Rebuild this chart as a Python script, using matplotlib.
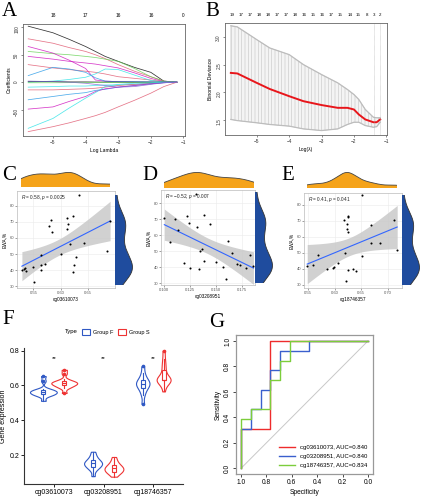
import numpy as np
import matplotlib
matplotlib.use('Agg')
import matplotlib.pyplot as plt
from matplotlib.patches import Patch
from matplotlib.lines import Line2D

plt.rcParams['font.family'] = ['Liberation Sans', 'DejaVu Sans']
plt.rcParams['mathtext.fontset'] = 'custom'
plt.rcParams['mathtext.it'] = 'Liberation Sans:italic'
plt.rcParams['mathtext.rm'] = 'Liberation Sans'
plt.rcParams['hatch.linewidth'] = 0.4

# ---------------- DATA ----------------
# Panel A: LASSO coefficient paths
lasso_log_lambda = [-5.76, -5.0, -4.5, -4.0, -3.7, -3.4, -3.0, -2.5, -2.0, -1.6, -1.2]
lasso_paths = [
    [102, 90, 78, 65, 56, 47, 38, 27, 18, 2, 0],
    [79, 71, 63, 56, 50, 43, 32, 20, 10, 2, 0],
    [56, 52, 50, 47, 45, 42, 38, 25, 10, 2, 0],
    [65, 53, 40, 25, 4, 2, 1, 0.5, 0.3, 0, 0],
    [47, 42, 38, 35, 33, 30, 26, 17, 7, 1, 0],
    [32, 26, 23, 20, 18, 15, 10, 7, 4, 1, 0],
    [12, 27, 24, 18, 8, 2, 1, 1, 0.5, 0, 0],
    [0, 2, 5, 9, 15, 24, 23, 13, 3, 0.5, 0],
    [1, 1, 0.5, 0.5, 0.3, 0.2, 0.1, 0, 0, 0, 0],
    [-1, -1, -0.8, -0.6, -0.5, -0.4, -0.3, -0.2, 0, 0, 0],
    [-9, -8, -7, -7, -6, -5, -5, -4, -2, -0.5, 0],
    [-14, -14, -13, -12, -11, -9, -6, -4, -2, -0.5, 0],
    [-32, -26, -22, -19, -15, -13, -9, -6, -3, -1, 0],
    [-49, -45, -35, -26, -17, -12, -9, -6, -3, -1, 0],
    [-84, -66, -47, -29, -19, -8, -4, -2, -1, 0, 0],
    [-90, -81, -74, -66, -61, -55, -45, -33, -20, -8, 0],
    [2, 1, 0, -2, -4, -6, -9, -8, -4, -1, 0],
]
lasso_top_pos = [-5, -4, -3, -2, -1]
lasso_top_labels = ['18', '17', '16', '16', '0']

# Panel B: cross-validation deviance
cv_log_lambda = [-5.8, -5.6, -5.0, -4.6, -4.0, -3.56, -3.0, -2.5, -2.2, -2.0, -1.85, -1.65, -1.4, -1.3, -1.19]
cv_mean = [2.35, 2.34, 2.17, 2.06, 1.93, 1.84, 1.77, 1.72, 1.72, 1.69, 1.60, 1.51, 1.46, 1.46, 1.51]
cv_upper = [3.20, 3.18, 2.95, 2.80, 2.68, 2.50, 2.32, 2.17, 2.05, 1.96, 1.87, 1.69, 1.55, 1.54, 1.54]
cv_lower = [1.51, 1.49, 1.45, 1.42, 1.39, 1.34, 1.31, 1.34, 1.42, 1.46, 1.46, 1.40, 1.37, 1.38, 1.46]
cv_lambda_lines = [-1.38, -1.19]
cv_top_pos = [-5.77, -5.49, -5.21, -4.92, -4.64, -4.38, -4.09, -3.81, -3.54, -3.25,
              -2.97, -2.71, -2.42, -2.13, -1.86, -1.60, -1.39, -1.19]
cv_top_labels = ['19', '17', '17', '18', '18', '17', '17', '18', '16', '15',
                 '16', '17', '15', '14', '15', '8', '3', '2']

# Panel C
c_x = [0.633, 0.691, 0.582, 0.578, 0.584, 0.611, 0.622, 0.614, 0.612, 0.617, 0.643, 0.686, 0.600,
       0.629, 0.565, 0.625, 0.622, 0.571, 0.564, 0.549, 0.565, 0.535, 0.532, 0.529, 0.536, 0.551]
c_y = [86.4, 70.6, 71.0, 67.4, 63.6, 72.6, 73.4, 68.4, 65.4, 56.0, 56.6, 52.0, 50.0,
       48.0, 49.4, 43.0, 39.0, 44.0, 43.4, 41.8, 40.0, 41.4, 41.0, 40.4, 39.4, 32.6]
# Panel D
d_x = [0.1308, 0.100, 0.1099, 0.1128, 0.1058, 0.1218, 0.1234, 0.132, 0.1385, 0.144, 0.136, 0.134, 0.1186,
       0.1244, 0.133, 0.1385, 0.150, 0.1564, 0.1596, 0.161, 0.165, 0.1699, 0.173, 0.1788, 0.1827, 0.186]
d_y = [85.8, 70.6, 70.0, 63.3, 56.0, 72.0, 67.9, 65.0, 72.7, 67.0, 51.5, 50.2, 42.9,
       39.8, 39.0, 44.0, 43.5, 40.0, 33.0, 56.5, 48.8, 41.9, 41.5, 39.4, 48.0, 40.8]
# Panel E
e_x = [0.651, 0.617, 0.626, 0.626, 0.623, 0.624, 0.626, 0.668, 0.711, 0.669, 0.684, 0.717, 0.619,
       0.651, 0.569, 0.559, 0.549, 0.586, 0.598, 0.599, 0.606, 0.626, 0.634, 0.641, 0.621]
e_y = [86.2, 70.7, 73.4, 72.4, 68.2, 65.1, 63.1, 67.2, 70.3, 56.2, 56.2, 51.7, 50.0,
       48.0, 48.6, 42.4, 41.8, 39.9, 40.7, 41.4, 43.4, 39.3, 39.7, 38.9, 32.5]

# Panel F: methylation per group
probes = ['cg03610073', 'cg03208951', 'cg18746357']
group_f_cg03610073 = [0.512, 0.540, 0.546, 0.550, 0.555, 0.560, 0.563, 0.566, 0.570, 0.576, 0.580, 0.626, 0.654]
group_s_cg03610073 = [0.557, 0.585, 0.594, 0.600, 0.605, 0.610, 0.614, 0.617, 0.620, 0.625, 0.635, 0.668, 0.690]
group_f_cg03208951 = [0.080, 0.115, 0.128, 0.135, 0.142, 0.149, 0.154, 0.158, 0.163, 0.173, 0.182, 0.198, 0.220]
group_s_cg03208951 = [0.077, 0.095, 0.102, 0.106, 0.113, 0.120, 0.125, 0.129, 0.134, 0.144, 0.152, 0.168, 0.190]
group_f_cg18746357 = [0.495, 0.545, 0.570, 0.586, 0.595, 0.603, 0.611, 0.617, 0.624, 0.634, 0.648, 0.672, 0.710]
group_s_cg18746357 = [0.566, 0.610, 0.622, 0.630, 0.631, 0.633, 0.634, 0.640, 0.655, 0.690, 0.715, 0.750, 0.800]
signif_labels = ['**', '**', '**']

# Panel G: ROC
roc_names = ['cg03610073, AUC=0.840', 'cg03208951, AUC=0.840', 'cg18746357, AUC=0.834']
roc_red_spec = [1, 1, 0.769, 0.769, 0]
roc_red_sens = [0, 0.308, 0.308, 1, 1]
roc_blue_spec = [1, 1, 0.923, 0.923, 0.846, 0.846, 0.769, 0.769, 0.692, 0.692, 0.462, 0.462, 0]
roc_blue_sens = [0, 0.308, 0.308, 0.462, 0.462, 0.615, 0.615, 0.769, 0.769, 0.923, 0.923, 1, 1]
roc_green_spec = [1, 1, 0.923, 0.923, 0.769, 0.769, 0.692, 0.692, 0.615, 0.615, 0]
roc_green_sens = [0, 0.385, 0.385, 0.462, 0.462, 0.692, 0.692, 0.846, 0.846, 1, 1]

# ---------------- FIGURE ----------------
W, H = 421, 500
fig = plt.figure(figsize=(W / 100, H / 100), dpi=100)


def px_axes(l, t, r, b):
    return fig.add_axes([l / W, 1 - b / H, (r - l) / W, (b - t) / H])


def panel_letter(x, y, s):
    fig.text(x / W, 1 - y / H, s, family='Liberation Serif', fontsize=15, va='top', ha='left')


def r_style(ax, fs=3.4):
    for s in ax.spines.values():
        s.set_color('#666666')
        s.set_linewidth(0.6)
    ax.tick_params(labelsize=fs, length=1.5, width=0.4, pad=1.2, colors='#333333')


# ---- A ----
axA = px_axes(23, 24, 185, 136)
pal = ['#000000', '#DF536B', '#61D04F', '#CD0BBC', '#CD0BBC', '#DF536B', '#2297E6', '#28E2E5',
       '#000000', '#61D04F', '#28E2E5', '#DF536B', '#2297E6', '#CD0BBC', '#28E2E5', '#DF536B', '#7F5FD0']
for path, col in zip(lasso_paths, pal):
    axA.plot(lasso_log_lambda, path, color=col, lw=0.55, alpha=0.8)
axA.set_xlim(-5.92, -0.95)
axA.set_ylim(-98, 106)
axA.set_xticks([-5, -4, -3, -2, -1])
axA.set_yticks([-50, 0, 50, 100])
axA.tick_params(axis='y', labelrotation=90)
r_style(axA)
axA.set_xlabel('Log Lambda', fontsize=3.6, labelpad=2)
axA.set_ylabel('Coefficients', fontsize=3.6, labelpad=2)
secA = axA.secondary_xaxis('top')
secA.set_xticks(lasso_top_pos, lasso_top_labels)
secA.tick_params(length=0, labelsize=3.4, pad=4)
secA.spines['top'].set_visible(False)

# ---- B ----
axB = px_axes(225, 23, 387, 135)
axB.fill_between(cv_log_lambda, cv_lower, cv_upper, facecolor='#f4f4f4', edgecolor='#c4c4c4',
                 hatch='|||||', linewidth=0.3)
axB.plot(cv_log_lambda, cv_upper, color='#bdbdbd', lw=0.9)
axB.plot(cv_log_lambda, cv_lower, color='#bdbdbd', lw=0.9)
axB.plot(cv_log_lambda, cv_mean, color='#e8161b', lw=1.4)
for v in cv_lambda_lines:
    axB.axvline(v, color='#aaaaaa', lw=0.4, ls=(0, (1, 1)))
axB.set_xlim(-5.98, -0.98)
axB.set_ylim(1.23, 3.25)
axB.set_xticks([-5, -4, -3, -2, -1])
axB.set_yticks([1.5, 2.0, 2.5, 3.0])
axB.tick_params(axis='y', labelrotation=90)
r_style(axB)
axB.set_xlabel('Log(λ)', fontsize=3.6, labelpad=2)
axB.set_ylabel('Binomial Deviance', fontsize=3.6, labelpad=2)
secB = axB.secondary_xaxis('top')
secB.set_xticks(cv_top_pos, cv_top_labels)
secB.tick_params(length=0, labelsize=3.2, pad=4)
secB.spines['top'].set_visible(False)


# ---- C, D, E ----
def kde(vals, grid):
    vals = np.asarray(vals, float)
    n = len(vals)
    sd = vals.std(ddof=1)
    q75, q25 = np.percentile(vals, [75, 25])
    bw = 0.9 * min(sd, (q75 - q25) / 1.34) * n ** -0.2
    z = (grid[:, None] - vals[None, :]) / bw
    return np.exp(-0.5 * z ** 2).sum(1) / (n * bw * np.sqrt(2 * np.pi))


ORANGE = '#F5A31A'
DBLUE = '#1F4C9E'


def scatter_panel(main_box, top_box, right_box, x, y, xlim, ylim, xticks, xticklabels, xlabel, stat):
    x = np.asarray(x, float)
    y = np.asarray(y, float)
    ax = px_axes(*main_box)
    ax.set_xlim(xlim)
    ax.set_ylim(ylim)
    ax.grid(color='#ebebeb', lw=0.4)
    ax.set_axisbelow(True)
    n = len(x)
    b1, b0 = np.polyfit(x, y, 1)
    xs = np.linspace(x.min(), x.max(), 80)
    yh = b0 + b1 * xs
    s = np.sqrt(np.sum((y - (b0 + b1 * x)) ** 2) / (n - 2))
    se = s * np.sqrt(1 / n + (xs - x.mean()) ** 2 / np.sum((x - x.mean()) ** 2))
    ax.fill_between(xs, yh - 2.07 * se, yh + 2.07 * se, color='#c9c9c9', alpha=0.85, lw=0)
    ax.plot(xs, yh, color='#3366FF', lw=0.8)
    ax.scatter(x, y, s=2.2, color='black', zorder=3, linewidths=0)
    ax.set_xticks(xticks, xticklabels)
    ax.set_yticks([30, 40, 50, 60, 70, 80])
    for sp in ax.spines.values():
        sp.set_color('#bbbbbb')
        sp.set_linewidth(0.5)
    ax.tick_params(labelsize=3.0, length=1.2, width=0.4, pad=1, colors='#555555')
    ax.set_xlabel(xlabel, fontsize=3.4, labelpad=1.5)
    ax.set_ylabel('EWA,%', fontsize=3.4, labelpad=1.5)
    ax.text(xlim[0] + 0.04 * (xlim[1] - xlim[0]), ylim[1] - 0.07 * (ylim[1] - ylim[0]), stat,
            fontsize=3.4, va='center', ha='left', color='#222222')
    # top marginal
    at = px_axes(*top_box)
    gx = np.linspace(x.min(), x.max(), 200)
    dx = kde(x, gx)
    at.fill_between(gx, 0, dx, facecolor=ORANGE, edgecolor='none')
    at.plot(gx, dx, color='#444444', lw=0.6)
    at.set_xlim(x.min(), x.max())
    at.set_ylim(0, dx.max() * 1.03)
    at.axis('off')
    # right marginal
    ar = px_axes(*right_box)
    gy = np.linspace(y.min(), y.max(), 200)
    dy = kde(y, gy)
    ar.fill_betweenx(gy, 0, dy, facecolor=DBLUE, edgecolor='none')
    ar.plot(dy, gy, color='#333333', lw=0.6)
    ar.set_ylim(y.min(), y.max())
    ar.set_xlim(0, dy.max() * 1.03)
    ar.axis('off')
    return ax


scatter_panel((17, 191, 115, 288), (21, 172, 110, 187), (115, 195, 133, 285), c_x, c_y,
              (0.520, 0.700), (29, 89), [0.55, 0.60, 0.65], ['0.55', '0.60', '0.65'],
              'cg03610073', r'$\it{R}$ = 0.58, $\it{p}$ = 0.0025')
scatter_panel((161, 190, 255, 285), (164, 172, 254, 188), (255, 192, 273, 283), d_x, d_y,
              (0.0968, 0.1875), (29, 88.3), [0.100, 0.125, 0.150, 0.175],
              ['0.100', '0.125', '0.150', '0.175'],
              'cg03208951', r'$\it{R}$ = −0.52, $\it{p}$ = 0.007')
scatter_panel((304, 193, 402, 288), (307, 172, 397, 188), (402, 195, 420, 285), e_x, e_y,
              (0.543, 0.726), (28, 87.5), [0.55, 0.60, 0.65, 0.70], ['0.55', '0.60', '0.65', '0.70'],
              'cg18746357', r'$\it{R}$ = 0.41, $\it{p}$ = 0.041')

# ---- F ----
BLUE = '#2f58c4'
RED = '#ee3333'
axF = px_axes(24, 348, 183, 484)
groups_f = [group_f_cg03610073, group_f_cg03208951, group_f_cg18746357]
groups_s = [group_s_cg03610073, group_s_cg03208951, group_s_cg18746357]
items = []
for i in range(3):
    items.append((groups_f[i], i + 1 - 0.21, BLUE))
    items.append((groups_s[i], i + 1 + 0.21, RED))
dens = []
for vals, pos, col in items:
    g = np.linspace(min(vals), max(vals), 200)
    dens.append((g, kde(vals, g)))
gmax = max(d.max() for _, d in dens)
for (vals, pos, col), (g, d) in zip(items, dens):
    hw = d / gmax * 0.27
    axF.fill_betweenx(g, pos - hw, pos + hw, facecolor='white', edgecolor=col, lw=0.8, zorder=2)
    axF.boxplot([vals], positions=[pos], widths=0.08, patch_artist=True, whis=1.5,
                boxprops=dict(facecolor='white', edgecolor=col, lw=0.8),
                medianprops=dict(color=col, lw=0.8),
                whiskerprops=dict(color=col, lw=0.8),
                capprops=dict(lw=0),
                flierprops=dict(marker='o', markersize=1.6, markerfacecolor=col,
                                markeredgecolor=col),
                zorder=3, manage_ticks=False)
for i, lab in enumerate(signif_labels):
    axF.text(i + 1, 0.755, lab, ha='center', va='center', fontsize=4.5)
axF.set_xlim(0.4, 3.6)
axF.set_ylim(0.035, 0.815)
axF.set_xticks([1, 2, 3], probes)
axF.set_yticks([0.2, 0.4, 0.6, 0.8], ['0.2', '0.4', '0.6', '0.8'])
for s in ['top', 'right']:
    axF.spines[s].set_visible(False)
for s in ['left', 'bottom']:
    axF.spines[s].set_color('#333333')
    axF.spines[s].set_linewidth(0.8)
axF.tick_params(labelsize=5, length=2, width=0.6, pad=1.5)
axF.set_ylabel('Gene expression', fontsize=5)
axF.yaxis.set_label_coords(-0.105, 0.5)
fig.text(65 / W, 1 - 332 / H, 'Type', fontsize=4.3, va='center', ha='left')
legF = fig.legend(handles=[Patch(facecolor='white', edgecolor=BLUE, lw=0.8),
                           Patch(facecolor='white', edgecolor=RED, lw=0.8)],
                  labels=['Group F', 'Group S'], ncol=2, frameon=False, fontsize=4,
                  loc='center left', bbox_to_anchor=(77 / W, 1 - 332 / H),
                  handlelength=1.4, handleheight=1.2, handletextpad=0.5, columnspacing=1.0)

# ---- G ----
axG = px_axes(236, 335, 373, 474)
axG.plot([1, 0], [0, 1], color='#c8c8c8', lw=0.7)
axG.plot(roc_red_spec, roc_red_sens, color='#ee2c2c', lw=1.0, label=roc_names[0])
axG.plot(roc_blue_spec, roc_blue_sens, color='#3a5fcd', lw=1.0, label=roc_names[1])
axG.plot(roc_green_spec, roc_green_sens, color='#7ccd3c', lw=1.0, label=roc_names[2])
axG.set_xlim(1.04, -0.04)
axG.set_ylim(-0.045, 1.047)
axG.set_xticks([1.0, 0.8, 0.6, 0.4, 0.2, 0.0], ['1.0', '0.8', '0.6', '0.4', '0.2', '0.0'])
axG.set_yticks([0.0, 0.2, 0.4, 0.6, 0.8, 1.0], ['0.0', '0.2', '0.4', '0.6', '0.8', '1.0'])
axG.tick_params(axis='y', labelrotation=90)
for s in axG.spines.values():
    s.set_color('#999999')
    s.set_linewidth(0.9)
axG.tick_params(labelsize=4.8, length=2, width=0.5, pad=1.5)
for lab in axG.get_yticklabels():
    lab.set_va('center')
axG.set_xlabel('Specificity', fontsize=4.8, labelpad=2)
axG.set_ylabel('Sensitivity', fontsize=4.8, labelpad=2)
axG.legend(loc='lower right', frameon=False, fontsize=4.3, handlelength=2.6,
           borderaxespad=0.6, labelspacing=0.6)

# ---- letters ----
panel_letter(2, 2, 'A')
panel_letter(205, 2, 'B')
panel_letter(2, 166, 'C')
panel_letter(142, 166, 'D')
panel_letter(281, 166, 'E')
panel_letter(2, 310, 'F')
panel_letter(209, 313, 'G')

fig.savefig('out.png', dpi=100)
